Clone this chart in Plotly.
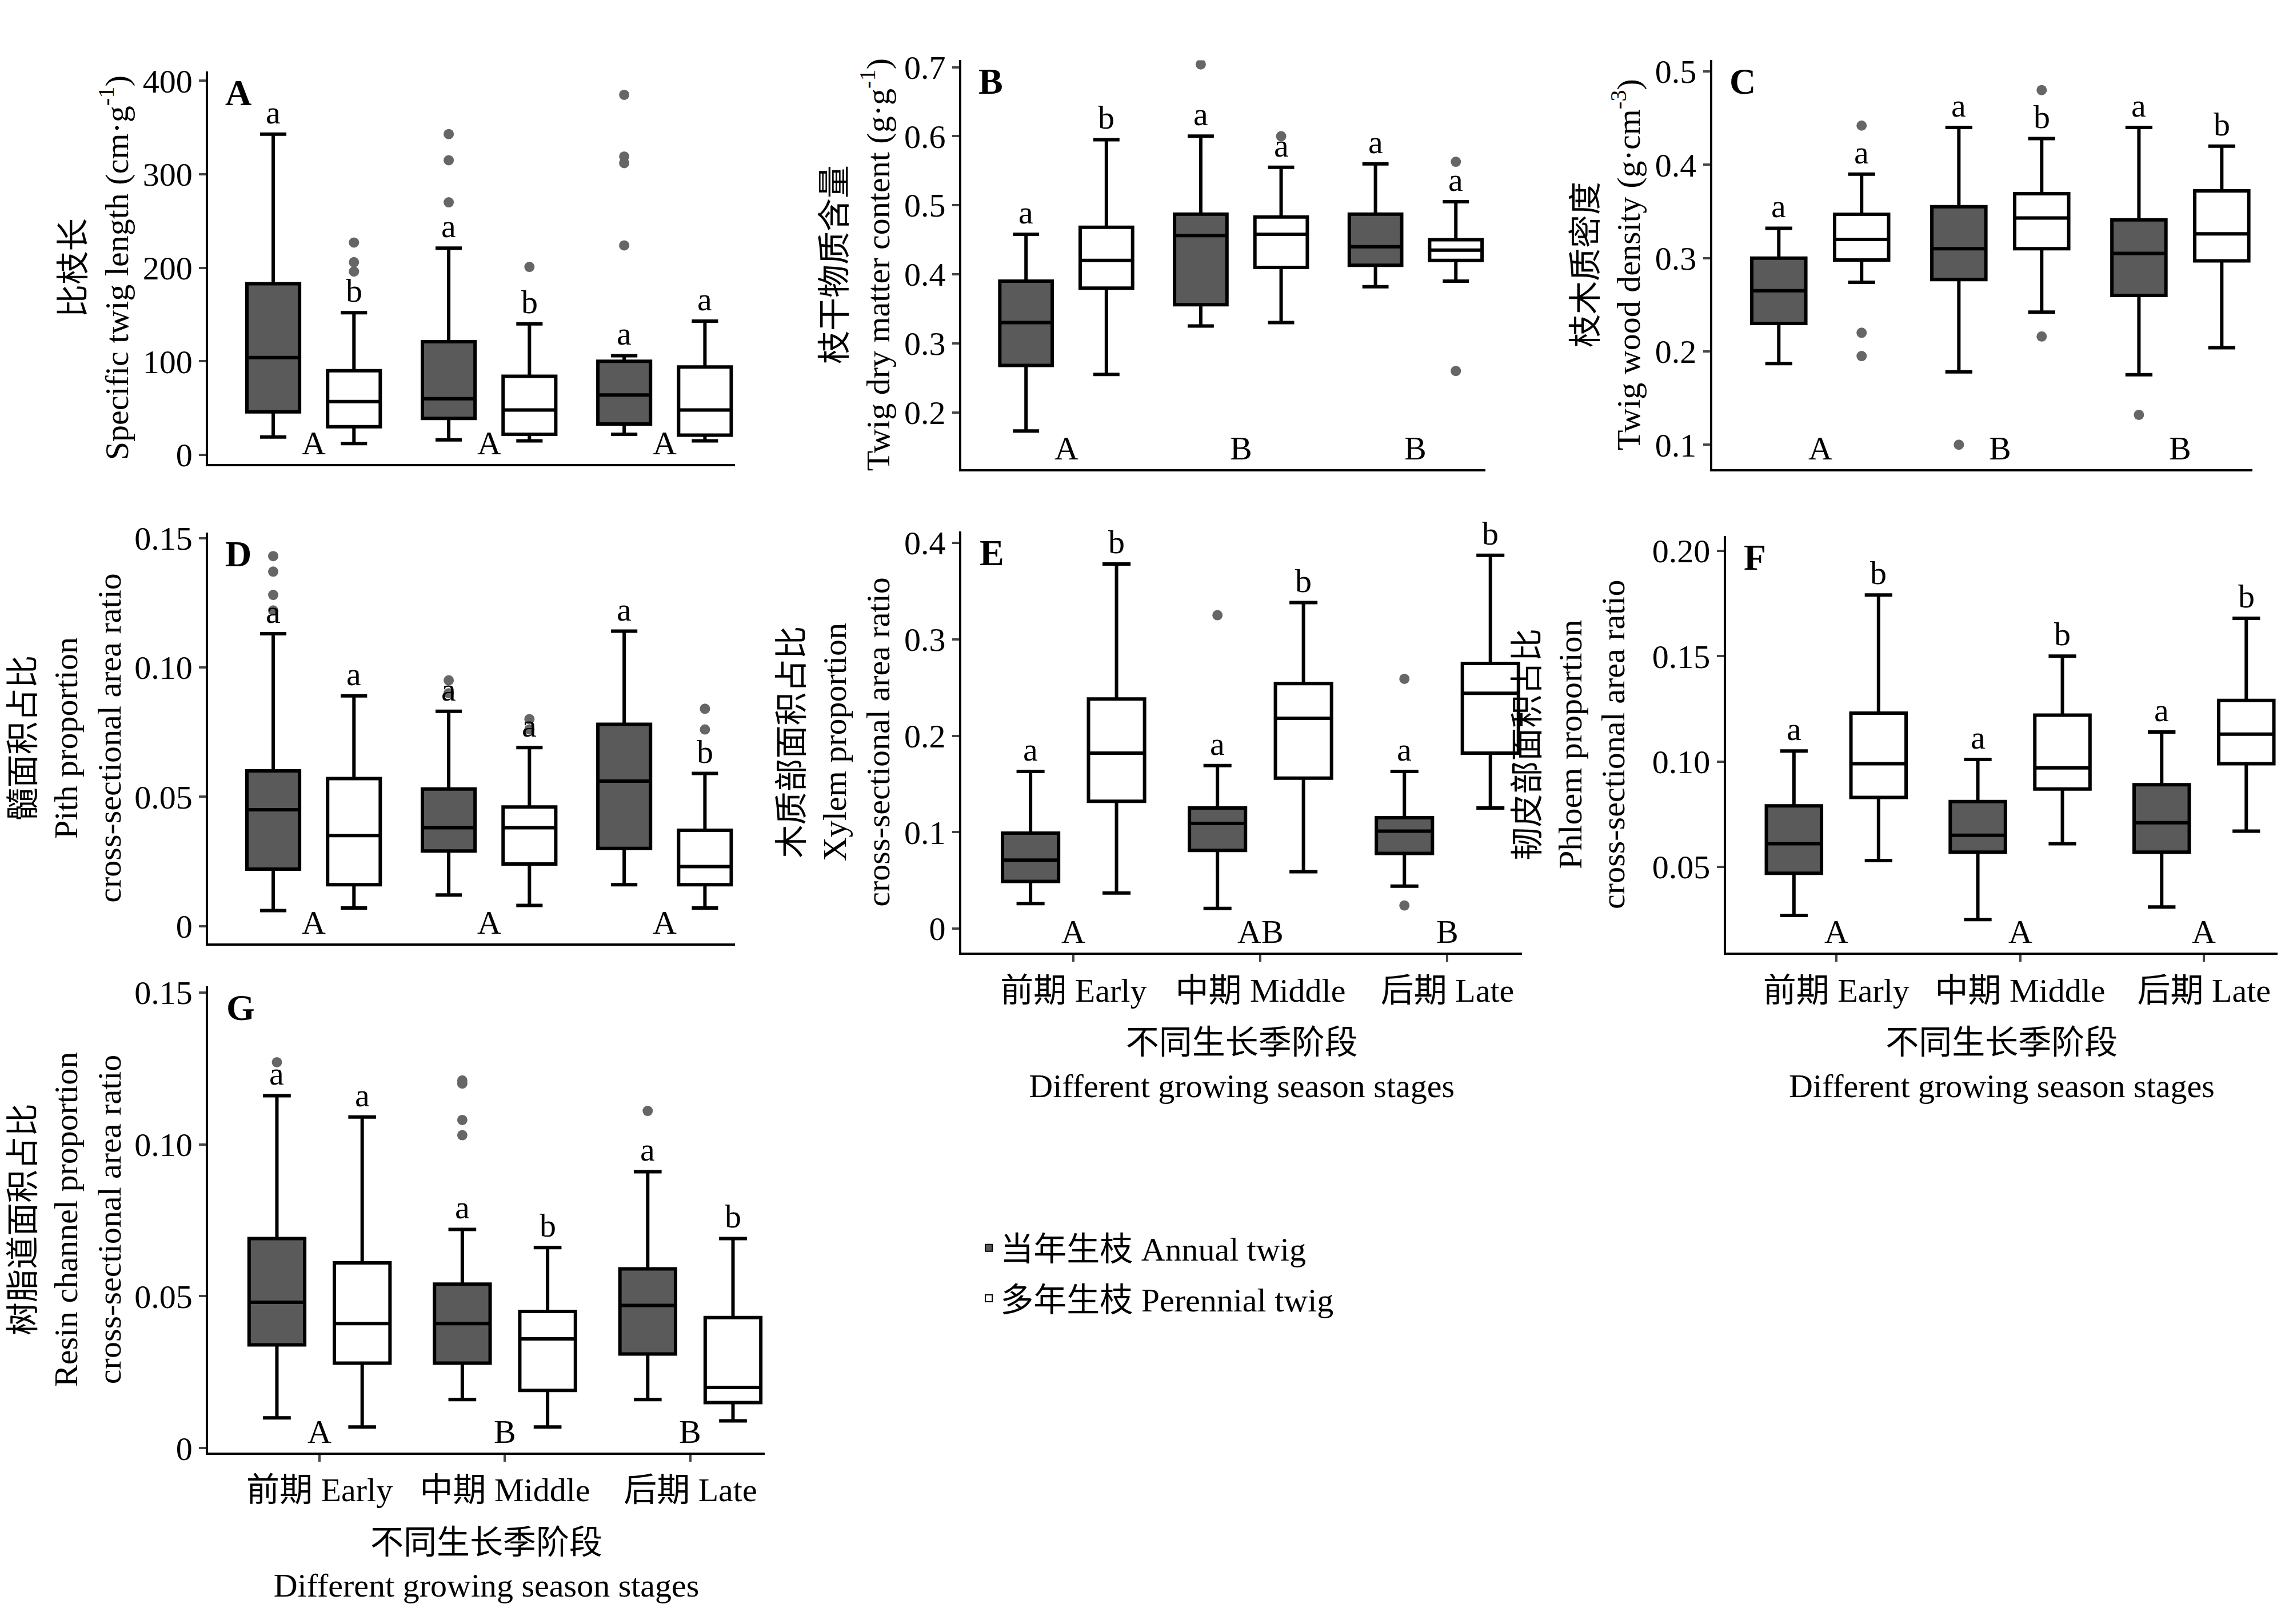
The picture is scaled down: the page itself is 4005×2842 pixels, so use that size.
import plotly.graph_objects as go

groups = [1, 2, 3]
stage_labels = ["前期 Early", "中期 Middle", "后期 Late"]

# each stat list: [group1, group2, group3]; entries are (q1, median, q3, lower, upper)
A_annual = [(46, 104, 183, 19, 343), (39, 60, 121, 16, 221), (33, 64, 100, 22, 106)]
A_perennial = [(30, 57, 90, 12, 152), (22, 48, 84, 15, 140), (21, 48, 94, 15, 143)]
A_out_annual = [[], [343, 315, 270], [385, 319, 312, 224]]
A_out_perennial = [[227, 206, 196], [201], []]
A_letters_annual = ["a", "a", "a"]
A_letters_perennial = ["b", "b", "a"]
A_groups = ["A", "A", "A"]

B_annual = [(0.268, 0.33, 0.39, 0.173, 0.458), (0.356, 0.456, 0.487, 0.325, 0.60), (0.413, 0.44, 0.487, 0.382, 0.56)]
B_perennial = [(0.38, 0.42, 0.468, 0.255, 0.595), (0.41, 0.458, 0.483, 0.33, 0.555), (0.42, 0.435, 0.45, 0.39, 0.505)]
B_out_annual = [[], [0.704], []]
B_out_perennial = [[], [0.60], [0.563, 0.26]]
B_letters_annual = ["a", "a", "a"]
B_letters_perennial = ["b", "a", "a"]
B_groups = ["A", "B", "B"]

C_annual = [(0.23, 0.265, 0.30, 0.187, 0.332), (0.277, 0.31, 0.355, 0.178, 0.44), (0.26, 0.305, 0.341, 0.175, 0.44)]
C_perennial = [(0.298, 0.32, 0.347, 0.274, 0.39), (0.31, 0.343, 0.369, 0.242, 0.428), (0.297, 0.326, 0.372, 0.204, 0.42)]
C_out_annual = [[], [0.10], [0.132]]
C_out_perennial = [[0.442, 0.22, 0.195], [0.48, 0.216], [0.525]]
C_letters_annual = ["a", "a", "a"]
C_letters_perennial = ["a", "b", "b"]
C_groups = ["A", "B", "B"]

D_annual = [(0.022, 0.045, 0.060, 0.006, 0.113), (0.029, 0.038, 0.053, 0.012, 0.083), (0.030, 0.056, 0.078, 0.016, 0.114)]
D_perennial = [(0.016, 0.035, 0.057, 0.007, 0.089), (0.024, 0.038, 0.046, 0.008, 0.069), (0.016, 0.023, 0.037, 0.007, 0.059)]
D_out_annual = [[0.143, 0.137, 0.128, 0.122], [0.095, 0.090], []]
D_out_perennial = [[], [0.080, 0.076], [0.084, 0.076]]
D_letters_annual = ["a", "a", "a"]
D_letters_perennial = ["a", "a", "b"]
D_groups = ["A", "A", "A"]

E_annual = [(0.049, 0.071, 0.099, 0.026, 0.163), (0.081, 0.109, 0.125, 0.021, 0.169), (0.078, 0.101, 0.115, 0.044, 0.163)]
E_perennial = [(0.132, 0.182, 0.238, 0.037, 0.378), (0.156, 0.218, 0.254, 0.059, 0.338), (0.182, 0.244, 0.275, 0.125, 0.387)]
E_out_annual = [[], [0.325], [0.259, 0.024]]
E_out_perennial = [[], [], []]
E_letters_annual = ["a", "a", "a"]
E_letters_perennial = ["b", "b", "b"]
E_groups = ["A", "AB", "B"]

F_annual = [(0.047, 0.061, 0.079, 0.027, 0.105), (0.057, 0.065, 0.081, 0.025, 0.101), (0.057, 0.071, 0.089, 0.031, 0.114)]
F_perennial = [(0.083, 0.099, 0.123, 0.053, 0.179), (0.087, 0.097, 0.122, 0.061, 0.150), (0.099, 0.113, 0.129, 0.067, 0.168)]
F_out_annual = [[], [], []]
F_out_perennial = [[], [], []]
F_letters_annual = ["a", "a", "a"]
F_letters_perennial = ["b", "b", "b"]
F_groups = ["A", "A", "A"]

G_annual = [(0.034, 0.048, 0.069, 0.010, 0.116), (0.028, 0.041, 0.054, 0.016, 0.072), (0.031, 0.047, 0.059, 0.016, 0.091)]
G_perennial = [(0.028, 0.041, 0.061, 0.007, 0.109), (0.019, 0.036, 0.045, 0.007, 0.066), (0.015, 0.020, 0.043, 0.009, 0.069)]
G_out_annual = [[0.127], [0.121, 0.120, 0.108, 0.103], [0.111]]
G_out_perennial = [[], [], []]
G_letters_annual = ["a", "a", "a"]
G_letters_perennial = ["a", "b", "b"]
G_groups = ["A", "B", "B"]

FONT = "Liberation Serif, Noto Sans CJK SC"
FS = 58
DARK = "#5a5a5a"

panels = [
    dict(name="A", ann=A_annual, per=A_perennial, oa=A_out_annual, op=A_out_perennial,
         la=A_letters_annual, lp=A_letters_perennial, g=A_groups,
         dx=[0.089, 0.319], dy=[0.72, 0.966], yr=[-10, 410],
         tv=[0, 100, 200, 300, 400], tt=["0", "100", "200", "300", "400"],
         title="比枝长<br>Specific twig length (cm·g<sup>-1</sup>)", xt=False),
    dict(name="B", ann=B_annual, per=B_perennial, oa=B_out_annual, op=B_out_perennial,
         la=B_letters_annual, lp=B_letters_perennial, g=B_groups,
         dx=[0.418, 0.647], dy=[0.717, 0.973], yr=[0.118, 0.71],
         tv=[0.2, 0.3, 0.4, 0.5, 0.6, 0.7], tt=["0.2", "0.3", "0.4", "0.5", "0.6", "0.7"],
         title="枝干物质含量<br>Twig dry matter content (g·g<sup>-1</sup>)", xt=False),
    dict(name="C", ann=C_annual, per=C_perennial, oa=C_out_annual, op=C_out_perennial,
         la=C_letters_annual, lp=C_letters_perennial, g=C_groups,
         dx=[0.746, 0.982], dy=[0.717, 0.973], yr=[0.074, 0.512],
         tv=[0.1, 0.2, 0.3, 0.4, 0.5], tt=["0.1", "0.2", "0.3", "0.4", "0.5"],
         title="枝木质密度<br>Twig wood density (g·cm<sup>-3</sup>)", xt=False),
    dict(name="D", ann=D_annual, per=D_perennial, oa=D_out_annual, op=D_out_perennial,
         la=D_letters_annual, lp=D_letters_perennial, g=D_groups,
         dx=[0.089, 0.319], dy=[0.42, 0.677], yr=[-0.0066, 0.152],
         tv=[0, 0.05, 0.10, 0.15], tt=["0", "0.05", "0.10", "0.15"],
         title="髓面积占比<br>Pith proportion<br>cross-sectional area ratio", xt=False),
    dict(name="E", ann=E_annual, per=E_perennial, oa=E_out_annual, op=E_out_perennial,
         la=E_letters_annual, lp=E_letters_perennial, g=E_groups,
         dx=[0.418, 0.663], dy=[0.414, 0.678], yr=[-0.025, 0.412],
         tv=[0, 0.1, 0.2, 0.3, 0.4], tt=["0", "0.1", "0.2", "0.3", "0.4"],
         title="木质部面积占比<br>Xylem proportion<br>cross-sectional area ratio", xt=True),
    dict(name="F", ann=F_annual, per=F_perennial, oa=F_out_annual, op=F_out_perennial,
         la=F_letters_annual, lp=F_letters_perennial, g=F_groups,
         dx=[0.752, 0.993], dy=[0.414, 0.675], yr=[0.0093, 0.207],
         tv=[0.05, 0.10, 0.15, 0.20], tt=["0.05", "0.10", "0.15", "0.20"],
         title="韧皮部面积占比<br>Phloem proportion<br>cross-sectional area ratio", xt=True),
    dict(name="G", ann=G_annual, per=G_perennial, oa=G_out_annual, op=G_out_perennial,
         la=G_letters_annual, lp=G_letters_perennial, g=G_groups,
         dx=[0.089, 0.332], dy=[0.101, 0.393], yr=[-0.0014, 0.152],
         tv=[0, 0.05, 0.10, 0.15], tt=["0", "0.05", "0.10", "0.15"],
         title="树脂道面积占比<br>Resin channel proportion<br>cross-sectional area ratio", xt=True),
]

fig = go.Figure()
layout = {}
annotations = []
OFF = 0.23

for i, p in enumerate(panels):
    n = "" if i == 0 else str(i + 1)
    xa, ya = "x" + n, "y" + n
    for kind, stats, outs, letters, fill, off in [
        ("annual", p["ann"], p["oa"], p["la"], DARK, -OFF),
        ("perennial", p["per"], p["op"], p["lp"], "white", OFF),
    ]:
        xs = [g + off for g in groups]
        fig.add_trace(go.Box(
            x=xs, q1=[s[0] for s in stats], median=[s[1] for s in stats],
            q3=[s[2] for s in stats], lowerfence=[s[3] for s in stats],
            upperfence=[s[4] for s in stats], width=0.3, whiskerwidth=0.5,
            fillcolor=fill, line=dict(color="black", width=6),
            name="当年生枝 Annual twig" if kind == "annual" else "多年生枝 Perennial twig",
            showlegend=(i == 0), legendgroup=kind, boxpoints=False,
            xaxis=xa, yaxis=ya, hoverinfo="skip"))
        ox, oy = [], []
        for x, o in zip(xs, outs):
            ox += [x] * len(o)
            oy += o
        if oy:
            fig.add_trace(go.Scatter(x=ox, y=oy, mode="markers", showlegend=False,
                                     marker=dict(color="#666666", size=18),
                                     xaxis=xa, yaxis=ya, hoverinfo="skip"))
        for x, s, l in zip(xs, stats, letters):
            annotations.append(dict(x=x, y=s[4], xref=xa, yref=ya, text=l, showarrow=False,
                                    yanchor="bottom", yshift=4, font=dict(size=FS, family=FONT)))
    for g, l in zip(groups, p["g"]):
        annotations.append(dict(x=g, y=0, xref=xa, yref=ya + " domain", text=l, showarrow=False,
                                yanchor="bottom", yshift=2, font=dict(size=FS, family=FONT)))
    annotations.append(dict(x=0.03, y=1, xref=xa + " domain", yref=ya + " domain", text="<b>%s</b>" % p["name"],
                            showarrow=False, xanchor="left", yanchor="top", font=dict(size=64, family=FONT)))
    xax = dict(domain=p["dx"], anchor=ya, range=[0.4, 3.4], showline=True,
               linecolor="black", linewidth=4, ticks="outside" if p["xt"] else "",
               ticklen=12, tickwidth=4, tickvals=groups,
               ticktext=stage_labels if p["xt"] else ["", "", ""],
               showgrid=False, zeroline=False, tickfont=dict(size=FS, family=FONT))
    if p["xt"]:
        xax["title"] = dict(text="不同生长季阶段<br>Different growing season stages",
                            font=dict(size=FS, family=FONT), standoff=40)
    layout["xaxis" + n] = xax
    layout["yaxis" + n] = dict(domain=p["dy"], anchor=xa, range=p["yr"], showline=True,
                               linecolor="black", linewidth=4, ticks="outside", ticklen=12, tickwidth=4,
                               tickvals=p["tv"], ticktext=p["tt"], showgrid=False, zeroline=False,
                               tickfont=dict(size=FS, family=FONT),
                               title=dict(text=p["title"], font=dict(size=FS, family=FONT),
                                          standoff=30 if p["name"] == "F" else 8))

fig.update_layout(**layout)
fig.update_layout(
    width=4005, height=2842, margin=dict(l=0, r=0, t=0, b=0),
    paper_bgcolor="white", plot_bgcolor="white", annotations=annotations,
    legend=dict(x=0.425, y=0.245, xanchor="left", yanchor="top", font=dict(size=FS, family=FONT),
                bgcolor="rgba(0,0,0,0)", itemsizing="constant"),
    font=dict(family=FONT, color="black"),
)
fig.write_html("out.html")
